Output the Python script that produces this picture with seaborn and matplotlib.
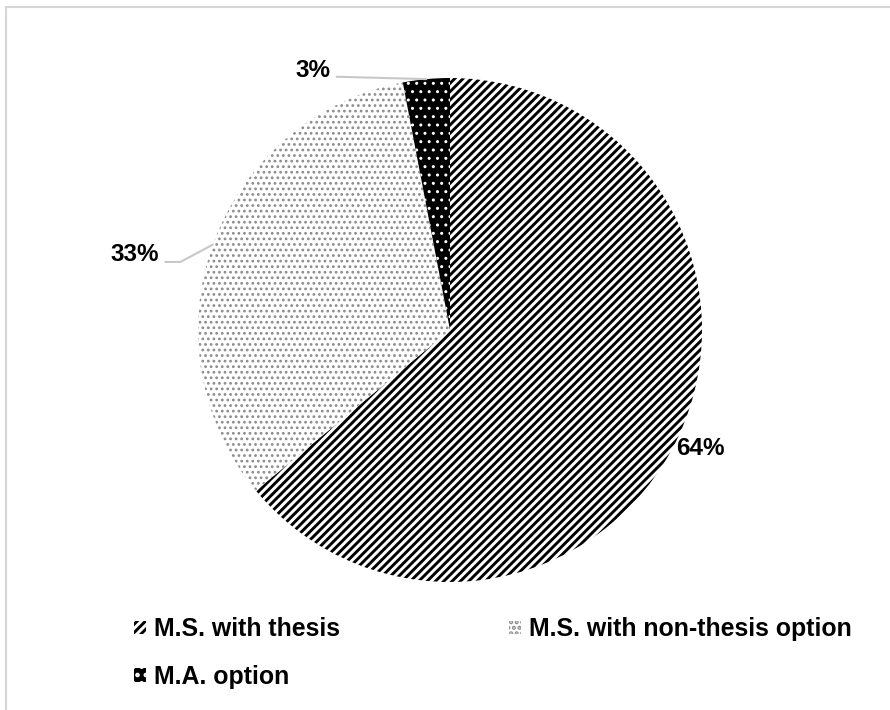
"""Pie chart of master's degree option shares."""

import matplotlib

matplotlib.use("Agg")

import matplotlib.pyplot as plt
import numpy as np
import seaborn as sns
from matplotlib.patches import Rectangle


PROGRAMS = ["M.S. with thesis", "M.S. with non-thesis option", "M.A. option"]
SHARES = [64, 33, 3]

FACES = ["white", "white", "black"]
HATCH_COLORS = ["black", "#8c8c8c", "white"]
HATCHES = ["////", "...", ".."]
HATCH_WIDTHS = [2.1, 1.2, 1.0]


def main() -> None:
    sns.set_theme(style="white", context="notebook")
    plt.rcParams["font.family"] = ["Liberation Sans", "DejaVu Sans"]
    plt.rcParams["hatch.linewidth"] = 2.1

    fig = plt.figure(figsize=(8.9, 7.1), dpi=100)
    fig.patch.set_facecolor("white")
    fig.patches.append(
        Rectangle((6 / 890, -0.05), 1.2, 1 - 7 / 710 + 0.05, transform=fig.transFigure,
                  fill=False, edgecolor="#d6d6d6", linewidth=1.5)
    )

    ax = fig.add_axes([198 / 890, 1 - 582 / 710, 504 / 890, 504 / 710])
    wedges, _ = ax.pie(
        SHARES,
        startangle=90,
        counterclock=False,
        radius=1.0,
        wedgeprops=dict(linewidth=0),
    )
    for wedge, face, hcol, hatch, hw in zip(wedges, FACES, HATCH_COLORS, HATCHES, HATCH_WIDTHS):
        wedge.set_facecolor(face)
        wedge.set_edgecolor(hcol)
        wedge.set_hatch(hatch)
        if hasattr(wedge, "set_hatch_linewidth"):
            wedge.set_hatch_linewidth(hw)
    ax.set_xlim(-1, 1)
    ax.set_ylim(-1, 1)
    ax.set_aspect("equal")
    ax.axis("off")

    pct_font = dict(fontsize=17.5, fontweight="bold", color="black")
    mids = [np.deg2rad((w.theta1 + w.theta2) / 2) for w in wedges]

    # 64%: sits just outside the slice
    ax.text(1.1 * np.cos(mids[0]), 1.1 * np.sin(mids[0]), f"{SHARES[0]}%",
            ha="center", va="center", clip_on=False, **pct_font)

    # 33% with leader line
    edge = (np.cos(mids[1]), np.sin(mids[1]))
    ax.plot([edge[0], -1.07, -1.13], [edge[1], 0.27, 0.27], color="#c8c8c8",
            linewidth=1.5, clip_on=False)
    ax.text(-1.155, 0.30, f"{SHARES[1]}%", ha="right", va="center", clip_on=False, **pct_font)

    # 3% with leader line
    edge = (np.cos(mids[2]), np.sin(mids[2]))
    ax.plot([edge[0], -0.45], [edge[1], 1.005], color="#c8c8c8", linewidth=1.5, clip_on=False)
    ax.text(-0.475, 1.03, f"{SHARES[2]}%", ha="right", va="center", clip_on=False, **pct_font)

    order = [0, 2, 1]
    legend = fig.legend(
        [wedges[i] for i in order],
        [PROGRAMS[i] for i in order],
        ncol=2,
        loc="upper left",
        bbox_to_anchor=(112 / 890, 1 - 595 / 710),
        frameon=False,
        handlelength=0.45,
        handleheight=0.45,
        handletextpad=0.35,
        columnspacing=6.8,
        labelspacing=0.95,
        prop=dict(weight="bold", size=17.9),
    )
    for text in legend.get_texts():
        text.set_color("black")

    fig.savefig("out.png", dpi=100, facecolor="white")
    plt.close(fig)


if __name__ == "__main__":
    main()
